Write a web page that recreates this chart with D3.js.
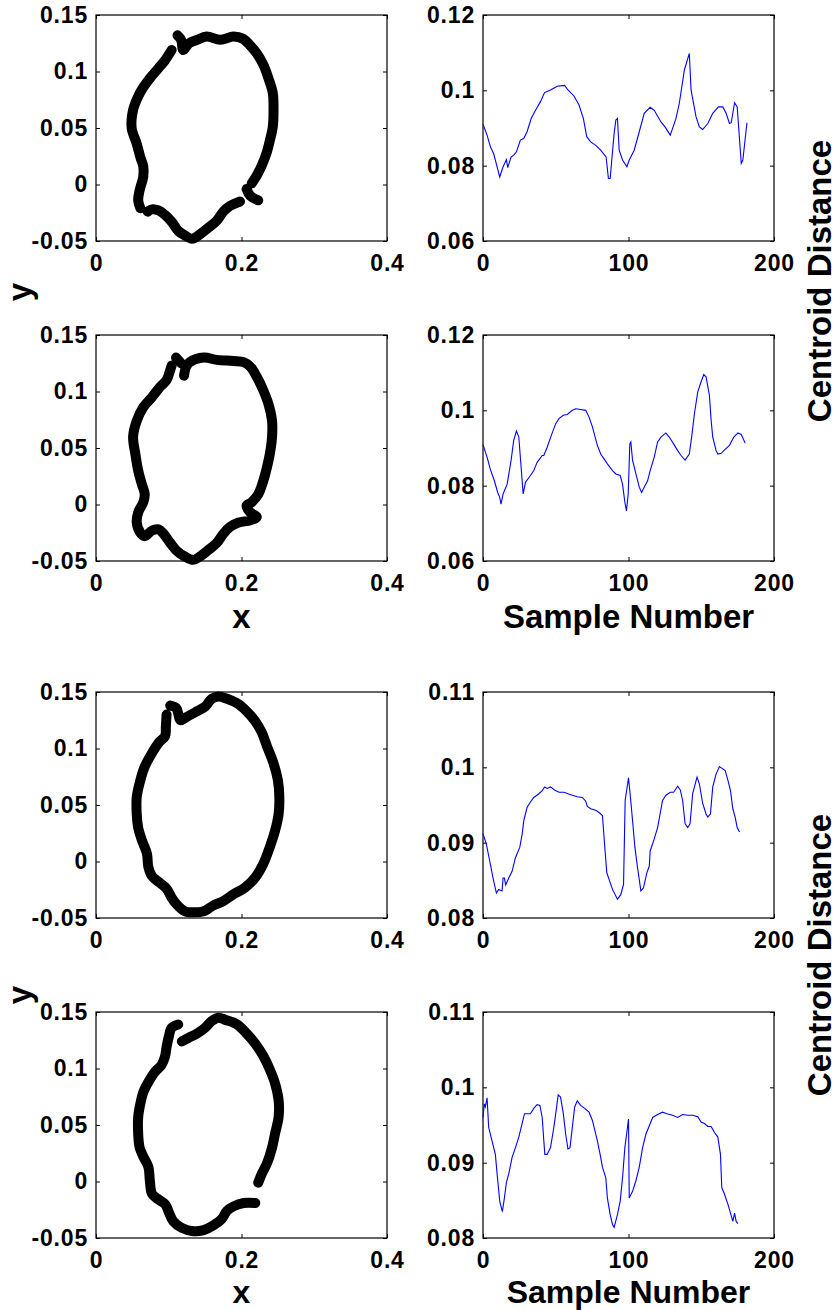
<!DOCTYPE html>
<html>
<head>
<meta charset="utf-8">
<script src="https://cdn.jsdelivr.net/npm/d3@7"></script>
<style>
  body { margin: 0; background: #fff; }
</style>
</head>
<body>
<div id="chart"></div>
<script>
// contour points (x, y), split into segments where the trace has gaps
const shape1 = [
  [[0.112, 0.132], [0.117, 0.128], [0.120, 0.119], [0.128, 0.125], [0.139, 0.128], [0.152, 0.131], [0.171, 0.128], [0.189, 0.131], [0.202, 0.129], [0.212, 0.123], [0.221, 0.116], [0.230, 0.106], [0.237, 0.094], [0.243, 0.081], [0.244, 0.066], [0.243, 0.051], [0.239, 0.039], [0.235, 0.029], [0.228, 0.017], [0.221, 0.008], [0.214, 0.001]],
  [[0.207, -0.004], [0.212, -0.010], [0.223, -0.014]],
  [[0.198, -0.015], [0.184, -0.019], [0.175, -0.024], [0.166, -0.032], [0.155, -0.038], [0.143, -0.044], [0.132, -0.048], [0.122, -0.045], [0.113, -0.041], [0.104, -0.033], [0.095, -0.027], [0.086, -0.023], [0.077, -0.022], [0.071, -0.024]],
  [[0.061, -0.021], [0.058, -0.014], [0.060, -0.005], [0.065, 0.007], [0.065, 0.016], [0.061, 0.024], [0.056, 0.036], [0.049, 0.050], [0.051, 0.066], [0.058, 0.078], [0.065, 0.086], [0.074, 0.094], [0.086, 0.103], [0.095, 0.110], [0.104, 0.119]]
]

const shape2 = [
  [[0.110, 0.130], [0.117, 0.125]],
  [[0.121, 0.114], [0.124, 0.122], [0.129, 0.126], [0.148, 0.130], [0.166, 0.128], [0.189, 0.127], [0.203, 0.126], [0.212, 0.122], [0.221, 0.113], [0.230, 0.101], [0.237, 0.089], [0.242, 0.074], [0.242, 0.060], [0.239, 0.045], [0.235, 0.033], [0.230, 0.021], [0.223, 0.009], [0.214, 0.002], [0.207, -0.001], [0.212, -0.007], [0.221, -0.011], [0.212, -0.014], [0.196, -0.016], [0.184, -0.020], [0.175, -0.026], [0.166, -0.034], [0.155, -0.040], [0.143, -0.046], [0.134, -0.049], [0.122, -0.046], [0.111, -0.041], [0.102, -0.034], [0.093, -0.026], [0.086, -0.022], [0.077, -0.023], [0.067, -0.028], [0.061, -0.025], [0.056, -0.016], [0.058, -0.007], [0.065, 0.002], [0.067, 0.009], [0.063, 0.018], [0.058, 0.030], [0.054, 0.045], [0.051, 0.060], [0.056, 0.074], [0.065, 0.086], [0.077, 0.095], [0.088, 0.104], [0.097, 0.110], [0.102, 0.119], [0.104, 0.123]]
]

const shape3 = [
  [[0.102, 0.138], [0.110, 0.136], [0.113, 0.131], [0.116, 0.125], [0.125, 0.128], [0.139, 0.133], [0.150, 0.137], [0.159, 0.144], [0.168, 0.146], [0.180, 0.144], [0.194, 0.140], [0.207, 0.133], [0.219, 0.124], [0.228, 0.114], [0.235, 0.102], [0.244, 0.087], [0.250, 0.072], [0.252, 0.057], [0.251, 0.042], [0.246, 0.027], [0.239, 0.013], [0.230, -0.002], [0.219, -0.014], [0.205, -0.023], [0.189, -0.029], [0.175, -0.035], [0.161, -0.039], [0.148, -0.044], [0.134, -0.045], [0.122, -0.044], [0.111, -0.038], [0.104, -0.032], [0.097, -0.024], [0.088, -0.019], [0.077, -0.013], [0.072, -0.005], [0.070, 0.007], [0.063, 0.019], [0.058, 0.030], [0.056, 0.042], [0.056, 0.057], [0.061, 0.072], [0.067, 0.084], [0.077, 0.096], [0.086, 0.105], [0.095, 0.111], [0.096, 0.119], [0.097, 0.130]]
]

const shape4 = [
  [[0.113, 0.139], [0.104, 0.136], [0.100, 0.128], [0.097, 0.119], [0.095, 0.111], [0.090, 0.103], [0.081, 0.097], [0.072, 0.088], [0.065, 0.079], [0.061, 0.069], [0.058, 0.057], [0.058, 0.042], [0.060, 0.030], [0.065, 0.022], [0.072, 0.013], [0.074, 0.001], [0.077, -0.011], [0.086, -0.016], [0.095, -0.020], [0.100, -0.027], [0.106, -0.035], [0.118, -0.041], [0.134, -0.044], [0.148, -0.043], [0.161, -0.039], [0.173, -0.033], [0.180, -0.026], [0.189, -0.022], [0.203, -0.019], [0.219, -0.019]],
  [[0.223, -0.001], [0.228, 0.007], [0.235, 0.016], [0.242, 0.030], [0.246, 0.042], [0.251, 0.057], [0.251, 0.072], [0.246, 0.087], [0.239, 0.099], [0.230, 0.111], [0.219, 0.122], [0.207, 0.131], [0.194, 0.139], [0.178, 0.143], [0.168, 0.145], [0.159, 0.142], [0.150, 0.136], [0.139, 0.131], [0.127, 0.127], [0.118, 0.124]]
]

// centroid distance signatures: [sample number, distance]
const signal1 = [[0, 0.0910], [2.8, 0.0881], [5.1, 0.0850], [7.4, 0.0831], [9.7, 0.0797], [11.5, 0.0770], [13.8, 0.0797], [16.1, 0.0816], [17, 0.0795], [19.3, 0.0823], [21.1, 0.0828], [23, 0.0837], [25.7, 0.0868], [28, 0.0872], [30.3, 0.0890], [33.1, 0.0925], [36.1, 0.0947], [39.5, 0.0970], [42.3, 0.0994], [46.4, 0.1001], [51, 0.1011], [56.1, 0.1013], [58.4, 0.1001], [62.5, 0.0985], [66, 0.0961], [69, 0.0925], [71.3, 0.0877], [74, 0.0863], [77.5, 0.0854], [80.9, 0.0841], [84.6, 0.0823], [86.2, 0.0766], [87.4, 0.0766], [90.1, 0.0885], [91.3, 0.0921], [92.4, 0.0925], [93.6, 0.0841], [95.9, 0.0815], [98.9, 0.0797], [100.5, 0.0815], [103.9, 0.0841], [107.4, 0.0890], [110.8, 0.0939], [114.9, 0.0955], [117.7, 0.0947], [122.3, 0.0916], [125.1, 0.0903], [128.7, 0.0881], [132.6, 0.0925], [134.9, 0.0965], [138.4, 0.1054], [141.8, 0.1098], [143, 0.1001], [146.4, 0.0930], [148.7, 0.0903], [151, 0.0896], [154.5, 0.0912], [157.9, 0.0939], [161.8, 0.0956], [164.8, 0.0956], [167.1, 0.0939], [169.4, 0.0912], [170.6, 0.0914], [172.9, 0.0967], [174.7, 0.0956], [177.5, 0.0806], [178.6, 0.0815], [181.4, 0.0914]]

const signal2 = [[0, 0.0909], [2.8, 0.0876], [5, 0.0844], [7.8, 0.0813], [10.1, 0.0782], [11.5, 0.0769], [12.4, 0.0751], [13.8, 0.0778], [16.6, 0.0804], [19.3, 0.0867], [21.1, 0.0920], [23, 0.0945], [24.6, 0.0929], [26.2, 0.0849], [27.6, 0.0778], [29.2, 0.0809], [32.6, 0.0827], [34.9, 0.0840], [37.2, 0.0862], [40.7, 0.0880], [41.8, 0.0880], [44.1, 0.0902], [46.9, 0.0933], [49.9, 0.0964], [52.2, 0.0978], [55.2, 0.0987], [57.9, 0.0989], [61.4, 0.1000], [63.7, 0.1004], [67.1, 0.1002], [70.6, 0.1000], [72.9, 0.0982], [75.2, 0.0956], [78.6, 0.0907], [80.9, 0.0884], [83.2, 0.0871], [85.5, 0.0858], [89, 0.0840], [91.3, 0.0831], [94.3, 0.0827], [95.9, 0.0804], [97.5, 0.0756], [98.6, 0.0733], [99.8, 0.0778], [100.9, 0.0911], [101.6, 0.0916], [102.8, 0.0867], [105.1, 0.0831], [107.4, 0.0796], [109, 0.0782], [111.3, 0.0800], [113.1, 0.0813], [114.9, 0.0840], [117.7, 0.0876], [120, 0.0916], [122.3, 0.0929], [125.7, 0.0940], [128, 0.0929], [131, 0.0911], [133.8, 0.0893], [136.1, 0.0880], [138.9, 0.0868], [141.8, 0.0884], [143.4, 0.0929], [145.3, 0.0991], [147.6, 0.1049], [149.9, 0.1076], [151.7, 0.1095], [153.3, 0.1089], [155.6, 0.1040], [156.8, 0.0973], [157.9, 0.0929], [160.2, 0.0893], [161.4, 0.0884], [163.7, 0.0886], [166, 0.0895], [169.4, 0.0907], [172.4, 0.0929], [175.2, 0.0940], [177.5, 0.0936], [180.2, 0.0913]]

const signal3 = [[0, 0.0912], [2.3, 0.0898], [4.6, 0.0876], [6.9, 0.0853], [9.2, 0.0833], [10.8, 0.0838], [13.1, 0.0836], [13.8, 0.0853], [14.7, 0.0853], [15.6, 0.0844], [17.7, 0.0853], [20, 0.0862], [22.3, 0.0880], [25.3, 0.0894], [26.9, 0.0911], [28, 0.0929], [30.3, 0.0947], [32.6, 0.0954], [34.9, 0.0960], [38.4, 0.0965], [40.7, 0.0969], [42.3, 0.0974], [44.1, 0.0972], [46.4, 0.0974], [49.2, 0.0970], [52.2, 0.0967], [55.6, 0.0967], [58.4, 0.0965], [61.4, 0.0963], [64.8, 0.0961], [68.3, 0.0960], [70.6, 0.0955], [71.7, 0.0948], [74, 0.0945], [77.5, 0.0943], [79.8, 0.0940], [82.1, 0.0936], [83.7, 0.0894], [85.1, 0.0860], [86.7, 0.0851], [89, 0.0838], [92.4, 0.0825], [94.7, 0.0831], [96.6, 0.0845], [97.7, 0.0956], [100, 0.0986], [101.1, 0.0965], [102.8, 0.0929], [104.4, 0.0894], [106.2, 0.0867], [108.5, 0.0836], [110.3, 0.0840], [112.6, 0.0860], [114.3, 0.0869], [114.9, 0.0889], [117.7, 0.0905], [120, 0.0920], [123.4, 0.0956], [125.7, 0.0963], [128.7, 0.0967], [131, 0.0967], [133.8, 0.0975], [135.6, 0.0970], [137.2, 0.0956], [138.9, 0.0925], [140.7, 0.0920], [142.3, 0.0925], [144.1, 0.0965], [147.1, 0.0987], [148.7, 0.0978], [151, 0.0952], [153.3, 0.0938], [154.5, 0.0934], [156.3, 0.0938], [157.9, 0.0974], [160.2, 0.0991], [162.5, 0.1001], [164.8, 0.0998], [166.4, 0.0996], [168.3, 0.0983], [170.1, 0.0969], [171.7, 0.0945], [173.3, 0.0934], [174.7, 0.0920], [176.3, 0.0914]]

const signal4 = [[0, 0.0960], [0.9, 0.0978], [1.6, 0.0974], [2.8, 0.0986], [3.9, 0.0947], [6.2, 0.0929], [8.5, 0.0911], [9.7, 0.0885], [11.5, 0.0849], [13.3, 0.0835], [14.7, 0.0853], [16.1, 0.0874], [17.7, 0.0885], [20, 0.0907], [22.3, 0.0920], [24.6, 0.0934], [26.9, 0.0952], [28.5, 0.0965], [32.6, 0.0965], [34.9, 0.0972], [37.2, 0.0977], [39.1, 0.0976], [40.7, 0.0960], [41.8, 0.0929], [42.5, 0.0911], [44.1, 0.0911], [46.4, 0.0920], [48.7, 0.0947], [50.6, 0.0974], [51.7, 0.0990], [53.3, 0.0987], [55.2, 0.0965], [56.8, 0.0938], [58.4, 0.0918], [59.8, 0.0920], [61.4, 0.0947], [63, 0.0974], [64.8, 0.0982], [67.1, 0.0976], [69.9, 0.0972], [72.9, 0.0967], [75.2, 0.0956], [77.5, 0.0938], [78.6, 0.0929], [80.5, 0.0911], [82.1, 0.0894], [84.4, 0.0880], [85.5, 0.0853], [87.4, 0.0831], [89, 0.0818], [90.1, 0.0814], [92.4, 0.0831], [94.3, 0.0849], [95.9, 0.0880], [97.5, 0.0920], [99.3, 0.0947], [100, 0.0958], [100.5, 0.0853], [102.8, 0.0862], [105.1, 0.0876], [107.4, 0.0894], [109.7, 0.0920], [112, 0.0938], [114.3, 0.0949], [116.6, 0.0960], [120, 0.0964], [123.4, 0.0967], [126.4, 0.0965], [130.3, 0.0963], [133.8, 0.0960], [137.2, 0.0964], [140.7, 0.0963], [144.1, 0.0963], [147.6, 0.0961], [149.9, 0.0954], [152.2, 0.0952], [154.5, 0.0948], [156.8, 0.0948], [159.1, 0.0940], [161.4, 0.0934], [163.2, 0.0911], [164.1, 0.0867], [166, 0.0858], [168.3, 0.0845], [170.1, 0.0833], [171.7, 0.0822], [172.9, 0.0833], [174, 0.0822], [175.2, 0.0819]]

// axis ranges and tick labels
const shapeXTicks = [0, 0.2, 0.4]
const shapeYTicks = [-0.05, 0, 0.05, 0.1, 0.15]
const sampleTicks = [0, 100, 200]
const distTicksTop = [0.06, 0.08, 0.1, 0.12]
const distTicksBottom = [0.08, 0.09, 0.1, 0.11]

const shapes = [shape1, shape2, shape3, shape4]
const signals = [signal1, signal2, signal3, signal4]
const distTicks = [distTicksTop, distTicksTop, distTicksBottom, distTicksBottom]

const font = "'Liberation Sans', Arial, Helvetica, sans-serif"
const rowTops = [15, 335, 692, 1012]
const axH = 226
const axW = 291
const leftX = 96
const rightX = 483

const svg = d3
  .select('#chart')
  .append('svg')
  .attr('width', 838)
  .attr('height', 1310)

const fmt = d => String(+d.toFixed(3))

function frame (g, x, y, xTicks, yTicks) {
  g.append('g')
    .attr('transform', 'translate(0,' + axH + ')')
    .call(d3.axisBottom(x).tickValues(xTicks).tickSize(-4).tickPadding(14).tickFormat(fmt))
  g.append('g')
    .call(d3.axisTop(x).tickValues(xTicks).tickSize(-4).tickFormat(''))
  g.append('g')
    .call(d3.axisLeft(y).tickValues(yTicks).tickSize(-4).tickPadding(8).tickFormat(fmt))
  g.append('g')
    .attr('transform', 'translate(' + axW + ',0)')
    .call(d3.axisRight(y).tickValues(yTicks).tickSize(-4).tickFormat(''))

  g.selectAll('.domain').remove()
  g.selectAll('.tick line').attr('stroke', '#000')
  g.selectAll('.tick text')
    .attr('fill', '#000')
    .attr('font-family', font)
    .attr('font-weight', 'bold')
    .attr('font-size', 23)
    .attr('letter-spacing', 0.8)

  g.append('rect')
    .attr('width', axW)
    .attr('height', axH)
    .attr('fill', 'none')
    .attr('stroke', '#000')
    .attr('stroke-width', 1.2)
}

const xShape = d3.scaleLinear().domain([0, 0.4]).range([0, axW])
const yShape = d3.scaleLinear().domain([-0.05, 0.15]).range([axH, 0])
const xSample = d3.scaleLinear().domain([0, 200]).range([0, axW])

shapes.forEach((segments, i) => {
  const g = svg.append('g').attr('transform', 'translate(' + leftX + ',' + rowTops[i] + ')')
  frame(g, xShape, yShape, shapeXTicks, shapeYTicks)

  const outline = d3.line()
    .x(d => xShape(d[0]))
    .y(d => yShape(d[1]))
    .curve(d3.curveCatmullRom)

  g.selectAll('.seg')
    .data(segments)
    .enter()
    .append('path')
    .attr('class', 'seg')
    .attr('d', outline)
    .attr('fill', 'none')
    .attr('stroke', '#000')
    .attr('stroke-width', 10)
    .attr('stroke-linecap', 'round')
    .attr('stroke-linejoin', 'round')
})

signals.forEach((points, i) => {
  const ticks = distTicks[i]
  const yDist = d3.scaleLinear().domain(d3.extent(ticks)).range([axH, 0])
  const g = svg.append('g').attr('transform', 'translate(' + rightX + ',' + rowTops[i] + ')')
  frame(g, xSample, yDist, sampleTicks, ticks)

  const line = d3.line()
    .x(d => xSample(d[0]))
    .y(d => yDist(d[1]))

  g.append('path')
    .datum(points)
    .attr('d', line)
    .attr('fill', 'none')
    .attr('stroke', '#0000ff')
    .attr('stroke-width', 1.1)
})

// axis titles, one set per pair of rows
function label (txt, x, y, rotate, size) {
  svg.append('text')
    .attr('transform', 'translate(' + x + ',' + y + ')' + (rotate ? ' rotate(-90)' : ''))
    .attr('text-anchor', 'middle')
    .attr('font-family', font)
    .attr('font-weight', 'bold')
    .attr('font-size', size || 33)
    .attr('fill', '#000')
    .text(txt)
}

label('x', leftX + axW / 2, rowTops[1] + axH + 67, false)
label('Sample Number', rightX + axW / 2, rowTops[1] + axH + 67, false)
label('x', leftX + axW / 2, 1303, false, 32)
label('Sample Number', rightX + axW / 2, 1303, false, 32)
label('y', 31, 292, true)
label('y', 31, 995, true)
label('Centroid Distance', 831, 281, true)
label('Centroid Distance', 831, 955, true)
</script>
</body>
</html>
